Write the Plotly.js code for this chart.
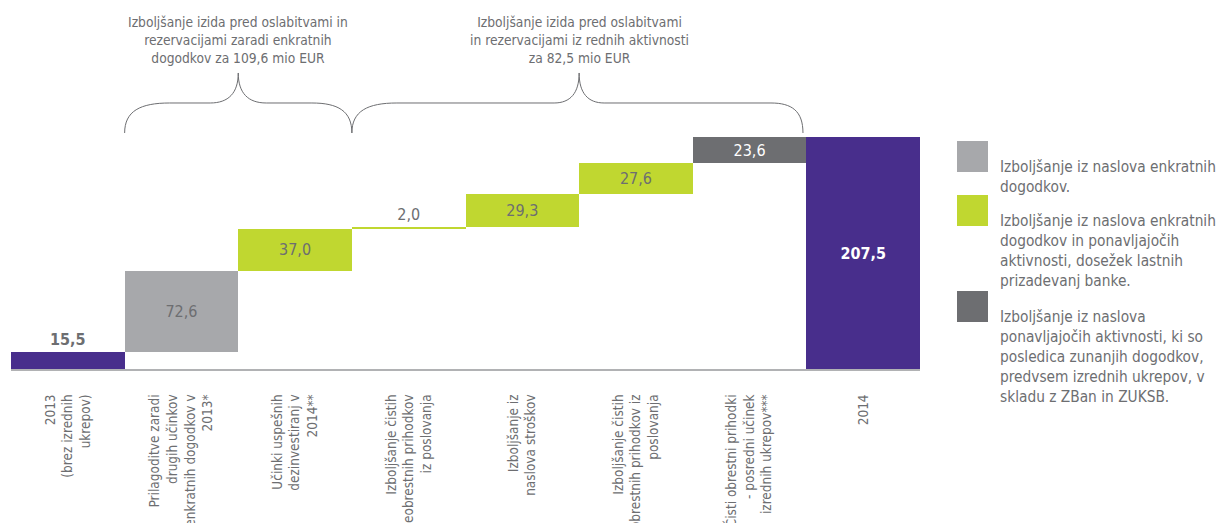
<!DOCTYPE html>
<html>
<head>
<meta charset="utf-8">
<script src="https://cdn.plot.ly/plotly-3.0.1.min.js"></script>
<style>
html,body{margin:0;padding:0;background:#fff;}
#chart{width:1216px;height:523px;}
</style>
</head>
<body>
<div id="chart"></div>
<script>
// ---- data ----
const categories = [
  "2013<br>(brez izrednih<br>ukrepov)",
  "Prilagoditve zaradi<br>drugih učinkov<br>enkratnih dogodkov v<br>2013*",
  "Učinki uspešnih<br>dezinvestiranj v<br>2014**",
  "Izboljšanje čistih<br>neobrestnih prihodkov<br>iz poslovanja",
  "Izboljšanje iz<br>naslova stroškov",
  "Izboljšanje čistih<br>obrestnih prihodkov iz<br>poslovanja",
  "Čisti obrestni prihodki<br>- posredni učinek<br>izrednih ukrepov***",
  "2014"
];
const values = [15.5, 72.6, 37.0, 2.0, 29.3, 27.6, 23.6, 207.5];
const isTotal = [true, false, false, false, false, false, false, true];
const barKind = ["total", "oneoff", "own", "own", "own", "own", "external", "total"];

const braceLabels = [
  "Izboljšanje izida pred oslabitvami in<br>rezervacijami zaradi enkratnih<br>dogodkov za 109,6 mio EUR",
  "Izboljšanje izida pred oslabitvami<br>in rezervacijami iz rednih aktivnosti<br>za 82,5 mio EUR"
];
const legendKinds = ["oneoff", "own", "external"];
const legendLabels = [
  "Izboljšanje iz naslova enkratnih<br>dogodkov.",
  "Izboljšanje iz naslova enkratnih<br>dogodkov in ponavljajočih<br>aktivnosti, dosežek lastnih<br>prizadevanj banke.",
  "Izboljšanje iz naslova<br>ponavljajočih aktivnosti, ki so<br>posledica zunanjih dogodkov,<br>predvsem izrednih ukrepov, v<br>skladu z ZBan in ZUKSB."
];

// ---- styles ----
const COLORS = {total: "#482e8c", oneoff: "#a7a8ab", own: "#c0d730", external: "#6d6e71"};
const TEXTCOL = {total: "#ffffff", oneoff: "#6d6e71", own: "#6d6e71", external: "#ffffff"};
const FONT = "Liberation Sans Narrow, DejaVu Sans Condensed, Arial Narrow, sans-serif";
const GREY = "#6d6e71";

// waterfall bases from running sum
const bases = [];
let run = 0;
values.forEach((v, i) => {
  if (isTotal[i]) { bases.push(0); run = v; }
  else { bases.push(run); run += v; }
});
const fmt = v => v.toFixed(1).replace(".", ",");
const xs = categories.map((_, i) => i);
const texts = values.map((v, i) => isTotal[i] ? "<b>" + fmt(v) + "</b>" : fmt(v));
const textpos = values.map((v, i) => (i === 0 || v < 5) ? "outside" : "inside");
const textcols = barKind.map((k, i) => textpos[i] === "outside" ? GREY : TEXTCOL[k]);

const trace = {
  type: "bar",
  x: xs,
  y: values,
  base: bases,
  marker: {color: barKind.map(k => COLORS[k]), line: {width: 0}},
  text: texts,
  textposition: textpos,
  insidetextanchor: "middle",
  constraintext: "none",
  textangle: 0,
  textfont: {family: FONT, size: 16, color: textcols},
  cliponaxis: false,
  hoverinfo: "skip"
};

// ---- layout geometry ----
const W = 1216, H = 523;
const M = {l: 11, r: 296, t: 0, b: 154};
const plotW = W - M.l - M.r, plotH = H - M.t - M.b;
const nCat = categories.length;
const pxX = x => M.l + (x + 0.5) / nCat * plotW;           // data x -> px
const dX = px => (px - M.l) / plotW * nCat - 0.5;          // px -> data x
const pY = py => (H - M.b - py) / plotH;                   // px -> paper y
const pX = px => (px - M.l) / plotW;                       // px -> paper x

function bracePath(x0, x1, xc, rEndL, rEndR, rIn) {
  const a = pxX(x0), b = pxX(x1), c = pxX(xc);
  const yB = 133, yH = 103, yT = 73;
  const P = (px, py) => dX(px).toFixed(4) + "," + pY(py).toFixed(4);
  return "M" + P(a, yB) +
    " C" + P(a, yH + 8) + " " + P(a + rEndL * 0.35, yH) + " " + P(a + rEndL, yH) +
    " L" + P(c - rIn, yH) +
    " C" + P(c - rIn * 0.35, yH) + " " + P(c, yH - 10) + " " + P(c, yT) +
    " C" + P(c, yH - 10) + " " + P(c + rIn * 0.35, yH) + " " + P(c + rIn, yH) +
    " L" + P(b - rEndR, yH) +
    " C" + P(b - rEndR * 0.35, yH) + " " + P(b, yH + 8) + " " + P(b, yB);
}

const shapes = [
  {type: "path", xref: "x", yref: "paper", path: bracePath(0.5, 2.5, 1.5, 45, 40, 28), line: {color: GREY, width: 1}},
  {type: "path", xref: "x", yref: "paper", path: bracePath(2.5, 6.47, 4.5, 45, 32, 25), line: {color: GREY, width: 1}}
];
const annotations = [
  {xref: "x", yref: "paper", x: 1.5, y: pY(12), xanchor: "center", yanchor: "top", align: "center",
   text: braceLabels[0], showarrow: false, font: {family: FONT, size: 13.7, color: GREY}},
  {xref: "x", yref: "paper", x: 4.5, y: pY(12), xanchor: "center", yanchor: "top", align: "center",
   text: braceLabels[1], showarrow: false, font: {family: FONT, size: 13.7, color: GREY}}
];
const legTops = [141, 195, 291];
legendKinds.forEach((k, i) => {
  shapes.push({type: "rect", xref: "paper", yref: "paper",
    x0: pX(957), x1: pX(988), y0: pY(legTops[i]), y1: pY(legTops[i] + 31),
    fillcolor: COLORS[k], line: {width: 0}});
  annotations.push({xref: "paper", yref: "paper", x: pX(998), y: pY(legTops[i] + 15),
    xanchor: "left", yanchor: "top", align: "left", showarrow: false,
    text: legendLabels[i], font: {family: FONT, size: 15.3, color: GREY}});
});

const layout = {
  width: W, height: H,
  margin: M,
  paper_bgcolor: "#ffffff", plot_bgcolor: "#ffffff",
  showlegend: false,
  bargap: 0,
  xaxis: {
    range: [-0.5, nCat - 0.5], tickmode: "array", tickvals: xs, ticktext: categories,
    tickangle: -90, ticks: "", showgrid: false, zeroline: false,
    showline: true, linecolor: "#b1b2b4", linewidth: 2,
    tickfont: {family: FONT, size: 13.5, color: GREY},
    ticklabelstandoff: 18, automargin: false, fixedrange: true
  },
  yaxis: {range: [0, plotH / (232 / 207.5)], visible: false, fixedrange: true},
  shapes: shapes,
  annotations: annotations,
  hovermode: false
};

Plotly.newPlot("chart", [trace], layout, {displayModeBar: false, staticPlot: true});
</script>
</body>
</html>
